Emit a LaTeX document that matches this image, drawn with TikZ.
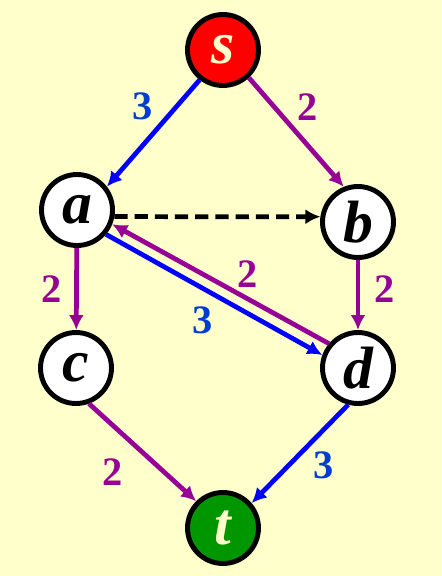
\documentclass[tikz,border=0pt]{standalone}
\usepackage{fontspec}
\setmainfont{Liberation Serif}
\usetikzlibrary{arrows.meta}
\definecolor{bgyellow}{RGB}{255,255,204}
\definecolor{srcred}{RGB}{255,0,0}
\definecolor{sinkgreen}{RGB}{0,150,0}
\definecolor{flowblue}{RGB}{0,0,255}
\definecolor{flowpurple}{RGB}{150,0,150}
\definecolor{numblue}{RGB}{0,60,210}
\def\Sx{223}
\def\Sy{50}
\def\Ax{77}
\def\Ay{210}
\def\Bx{358}
\def\By{222}
\def\Cx{76}
\def\Cy{368}
\def\Dx{358}
\def\Dy{368}
\def\Tx{223}
\def\Ty{528}

\begin{document}
\begin{tikzpicture}[x=0.02cm,y=-0.02cm,
  vertex/.style={circle,draw=black,line width=2.8pt,fill=white,minimum size=1.42cm,inner sep=0pt,
    font=\fontsize{34}{34}\selectfont\bfseries\itshape},
  flow/.style={line width=2.7pt,-{Latex[length=8.5pt,width=8.5pt]}},
  weight/.style={font=\fontsize{23}{23}\selectfont\bfseries}]
\fill[bgyellow] (0,0) rectangle (441,576);

\node[vertex,fill=srcred,text=bgyellow] (s) at (\Sx, \Sy) {s};
\node[vertex] (a) at (\Ax, \Ay) {a};
\node[vertex] (b) at (\Bx, \By) {b};
\node[vertex] (c) at (\Cx, \Cy) {c};
\node[vertex] (d) at (\Dx, \Dy) {d};
\node[vertex,fill=sinkgreen,text=bgyellow] (t) at (\Tx, \Ty) {t};

\draw[flow,flowblue] (s.232) -- (a.38);
\draw[flow,flowpurple] (s.-47) -- (b.112);
\draw[flow,black,dash pattern=on 7.5pt off 4pt] (a.-10) -- (b.172);
\draw[flow,flowpurple] (a) -- (c);
\draw[flow,flowpurple] (b) -- (d);
\draw[flow,flowblue] (a.-40) -- (d.160);
\draw[flow,flowpurple] (d.140) -- (a.-22);
\draw[flow,flowpurple] (c.-70) -- (t.135);
\draw[flow,flowblue] (d.-105) -- (t.41);

\node[weight,numblue] (wsa) at (143, 106) {3};
\node[weight,flowpurple] (wsb) at (308, 107) {2};
\node[weight,flowpurple] (wac) at (52, 289) {2};
\node[weight,flowpurple] (wbd) at (385, 289) {2};
\node[weight,flowpurple] (wda) at (248, 274) {2};
\node[weight,numblue] (wad) at (203, 320) {3};
\node[weight,flowpurple] (wct) at (113, 472) {2};
\node[weight,numblue] (wdt) at (324, 465) {3};
\end{tikzpicture}
\end{document}
